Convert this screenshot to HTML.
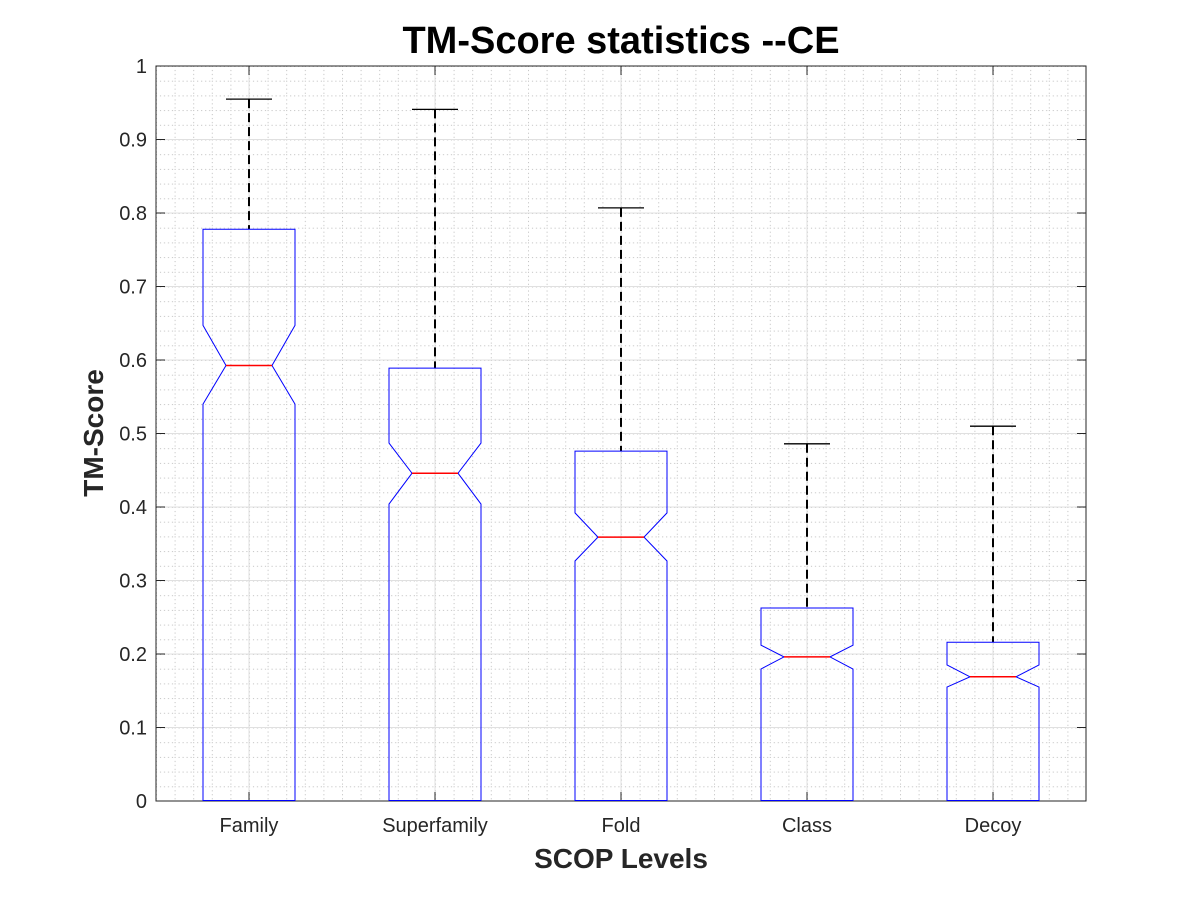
<!DOCTYPE html>
<html><head><style>body{margin:0;background:#fff}svg{display:block}</style></head><body>
<svg width="1200" height="900" xmlns="http://www.w3.org/2000/svg" font-family="Liberation Sans, sans-serif">
<defs>
<pattern id="mg" patternUnits="userSpaceOnUse" x="249" y="801" width="18.6" height="14.7">
<line x1="0.5" y1="0" x2="0.5" y2="14.7" stroke="#bbb" stroke-width="1" stroke-dasharray="1,3"/>
<line x1="0" y1="0.5" x2="18.6" y2="0.5" stroke="#bbb" stroke-width="1" stroke-dasharray="1,3"/>
</pattern>
</defs>
<rect width="1200" height="900" fill="#fff"/>
<rect x="156" y="66" width="930" height="735" fill="url(#mg)"/>
<g stroke="#e0e0e0" stroke-width="1">
<line x1="156" x2="1086" y1="727.5" y2="727.5"/><line x1="156" x2="1086" y1="654" y2="654"/>
<line x1="156" x2="1086" y1="580.5" y2="580.5"/><line x1="156" x2="1086" y1="507" y2="507"/>
<line x1="156" x2="1086" y1="433.5" y2="433.5"/><line x1="156" x2="1086" y1="360" y2="360"/>
<line x1="156" x2="1086" y1="286.5" y2="286.5"/><line x1="156" x2="1086" y1="213" y2="213"/>
<line x1="156" x2="1086" y1="139.5" y2="139.5"/>
<line x1="249" x2="249" y1="66" y2="801"/><line x1="435" x2="435" y1="66" y2="801"/>
<line x1="621" x2="621" y1="66" y2="801"/><line x1="807" x2="807" y1="66" y2="801"/>
<line x1="993" x2="993" y1="66" y2="801"/>
</g>
<rect x="156" y="66" width="930" height="735" fill="none" stroke="#262626" stroke-width="1"/>
<g stroke="#262626" stroke-width="1">
<line x1="156" x2="165" y1="801" y2="801"/><line x1="156" x2="165" y1="727.5" y2="727.5"/>
<line x1="156" x2="165" y1="654" y2="654"/><line x1="156" x2="165" y1="580.5" y2="580.5"/>
<line x1="156" x2="165" y1="507" y2="507"/><line x1="156" x2="165" y1="433.5" y2="433.5"/>
<line x1="156" x2="165" y1="360" y2="360"/><line x1="156" x2="165" y1="286.5" y2="286.5"/>
<line x1="156" x2="165" y1="213" y2="213"/><line x1="156" x2="165" y1="139.5" y2="139.5"/>
<line x1="1086" x2="1077" y1="727.5" y2="727.5"/><line x1="1086" x2="1077" y1="654" y2="654"/>
<line x1="1086" x2="1077" y1="580.5" y2="580.5"/><line x1="1086" x2="1077" y1="507" y2="507"/>
<line x1="1086" x2="1077" y1="433.5" y2="433.5"/><line x1="1086" x2="1077" y1="360" y2="360"/>
<line x1="1086" x2="1077" y1="286.5" y2="286.5"/><line x1="1086" x2="1077" y1="213" y2="213"/>
<line x1="1086" x2="1077" y1="139.5" y2="139.5"/>
<line x1="249" x2="249" y1="66" y2="75"/><line x1="435" x2="435" y1="66" y2="75"/>
<line x1="621" x2="621" y1="66" y2="75"/><line x1="807" x2="807" y1="66" y2="75"/>
<line x1="993" x2="993" y1="66" y2="75"/>
<line x1="249" x2="249" y1="801" y2="792"/><line x1="435" x2="435" y1="801" y2="792"/>
<line x1="621" x2="621" y1="801" y2="792"/><line x1="807" x2="807" y1="801" y2="792"/>
<line x1="993" x2="993" y1="801" y2="792"/>
</g>
<g font-size="20" text-anchor="end" fill="#262626">
<text x="147" y="808">0</text><text x="147" y="734.5">0.1</text><text x="147" y="661">0.2</text>
<text x="147" y="587.5">0.3</text><text x="147" y="514">0.4</text><text x="147" y="440.5">0.5</text>
<text x="147" y="367">0.6</text><text x="147" y="293.5">0.7</text><text x="147" y="220">0.8</text>
<text x="147" y="146.5">0.9</text><text x="147" y="73">1</text>
</g>
<g font-size="20" text-anchor="middle" fill="#262626">
<text x="249" y="832">Family</text><text x="435" y="832">Superfamily</text><text x="621" y="832">Fold</text>
<text x="807" y="832">Class</text><text x="993" y="832">Decoy</text>
</g>
<g stroke="#000" stroke-width="2" stroke-dasharray="9,5">
<line x1="249" x2="249" y1="99.1" y2="229.2"/><line x1="435" x2="435" y1="109.4" y2="368.1"/>
<line x1="621" x2="621" y1="207.9" y2="451.1"/><line x1="807" x2="807" y1="443.8" y2="608"/>
<line x1="993" x2="993" y1="426.2" y2="642.2"/>
</g>
<g stroke="#000" stroke-width="1.3">
<line x1="226" x2="272" y1="99.1" y2="99.1"/><line x1="412" x2="458" y1="109.4" y2="109.4"/>
<line x1="598" x2="644" y1="207.9" y2="207.9"/><line x1="784" x2="830" y1="443.8" y2="443.8"/>
<line x1="970" x2="1016" y1="426.2" y2="426.2"/>
</g>
<g fill="none" stroke="#0000ff" stroke-width="1">
<polygon points="203,800.5 203,404.1 226,365.5 203,325.4 203,229.2 295,229.2 295,325.4 272,365.5 295,404.1 295,800.5"/>
<polygon points="389,800.5 389,504.1 412,473.2 389,443.1 389,368.1 481,368.1 481,443.1 458,473.2 481,504.1 481,800.5"/>
<polygon points="575,800.5 575,561 598,537.1 575,512.9 575,451.1 667,451.1 667,512.9 644,537.1 667,561 667,800.5"/>
<polygon points="761,800.5 761,669 784,656.9 761,645.2 761,608 853,608 853,645.2 830,656.9 853,669 853,800.5"/>
<polygon points="947,800.5 947,687.1 970,676.8 947,665 947,642.2 1039,642.2 1039,665 1016,676.8 1039,687.1 1039,800.5"/>
</g>
<g stroke="#ff0000" stroke-width="1.5">
<line x1="226" x2="272" y1="365.5" y2="365.5"/><line x1="412" x2="458" y1="473.2" y2="473.2"/>
<line x1="598" x2="644" y1="537.1" y2="537.1"/><line x1="784" x2="830" y1="656.9" y2="656.9"/>
<line x1="970" x2="1016" y1="676.8" y2="676.8"/>
</g>
<text x="621" y="53" font-size="38" font-weight="bold" text-anchor="middle" fill="#000">TM-Score statistics --CE</text>
<text x="621" y="868" font-size="28" font-weight="bold" text-anchor="middle" fill="#262626">SCOP Levels</text>
<text transform="translate(103,433) rotate(-90)" font-size="28" font-weight="bold" text-anchor="middle" fill="#262626">TM-Score</text>
</svg>
</body></html>
